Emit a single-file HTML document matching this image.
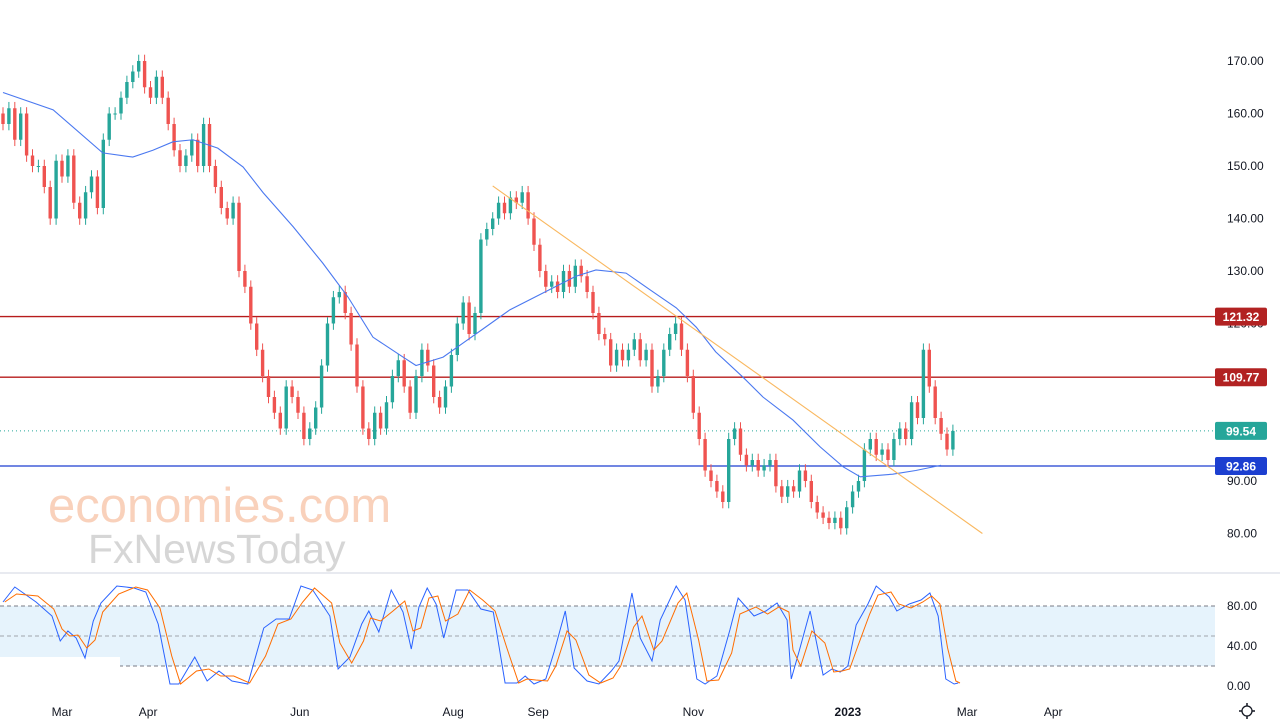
<!DOCTYPE html>
<html><head><meta charset="utf-8"><style>
html,body{margin:0;padding:0;background:#fff;}
svg{display:block;font-family:"Liberation Sans",sans-serif;}
</style></head><body>
<svg id="chart" width="1280" height="728" xmlns="http://www.w3.org/2000/svg">
<rect width="1280" height="728" fill="#fff"/>
<g>
<text x="48" y="522" font-size="49" fill="#f8c9b0" opacity="0.85">economies.com</text>
<text x="88" y="563" font-size="41" fill="#d6d6d6">FxNewsToday</text>
</g>
<g id="osc-bg"></g>
<g id="price"></g>
<g id="osc"></g>
<g id="axes"></g>
</svg>
<script>
// ---- price data ----
const closes=[158,161,155,160,152,150, 150,146,140,151,148,152,143, 140,145,148,142,155,160,
160,163,166,168,170,165,163, 167,163,158,153, 150,152,155,150,158,150, 146,142,140,143,
130,127,120,115,110,106,103, 100,108,106,103,98,100,104, 112,120,125,126,122,
116,108,100,98,103,100, 105,110,113,108,103, 110,115,112,106,104, 108,114,120,124,118,122,
136,138,140,143,141,144,143,145, 140,135,130,127,128,126, 130,127,131,129,126,122,
118,117,112,115,113,115, 117,113,115,108,110,115, 118,120,115,110, 103,98,92,90,88,86,
98,100,95,93,94,92, 93,94,89,87,89,88, 92,90,86,84,83,82, 83,81,85,88,90,
96,98,95,96,94, 98,100,98,105,102, 115,108,102,99,96,99.54];
const maT=[0,8.5,16.9,22,25.4,28.8,32.2,36.4,40.7,44.1,49.2,54.2,58.5,62.7,67.8,70,74.6,78,81.4,85.9,97.1,100.5,105.6,109.7,114.1,117.5,120.8,125.4,128.8,133.9,138.5,142.4,145.3,150.8,154.7,159];
const maVal=[164,160.7,152.5,151.7,153,154.6,155,153.4,149.8,144.9,138.4,131.5,125,117.4,113.6,112,113.6,116.3,119,122.6,129,130.2,129.6,126.4,123,119.3,114.6,109.8,106,101.6,96.5,92.7,90.8,91.3,92,93];
const trendT=[83,166];
const trendP=[146.2,80];
const priceTicks=[170,160,150,140,130,120,90,80];
const levels=[121.32,109.77,92.86];
const lastPrice=99.54;
// ---- oscillator data ----
const oscT=[0,2,5.6,8.3,9.7,11,12.4,13.9,15.3,16.6,19.3,22.2,24.2,26.3,28.3,29.8,32.5,34.6,36.6,38.8,
41.5,44.2,46.3,48.5,50.5,52.5,55.4,56.8,58.8,60.8,62,63.7,65.8,67.8,69.2,70.5,71.9,73.4,74.7,76.8,
78.8,81,83.1,85.1,87.1,88.5,90,92,93.4,95.3,96.8,99,101,103.1,104.4,106.6,108,110,111.4,114.1,
115.6,117.6,119,121,123.2,124.6,127.3,129.3,131.2,132.9,133.6,134.9,136.8,139,140.5,141.9,143.2,144.6,146.6,148,
150.2,151.5,153.6,155.6,157.1,158.5,159.8,161.2,161.9];
const oscK=[84,99,84,70,45,55,48,28,65,83,100,98,94,62,2,2,29,5,15,5,
2,58,67,67,100,96,70,17,29,62,75,54,96,74,37,79,98,82,48,96,
96,77,74,3,3,10,2,7,34,75,18,5,2,15,25,93,48,25,66,100,
86,7,2,10,56,88,70,75,83,66,7,34,75,11,17,14,20,61,82,100,
89,75,82,86,93,70,7,2,3];
const oscD=[84,92,90,77,57,50,51,38,46,74,92,99,96,78,30,2,15,17,10,10,
3,30,62,67,84,98,83,43,23,45,68,65,75,85,55,58,88,90,65,72,
96,86,75,38,3,7,6,5,20,55,46,11,3,8,20,59,70,36,45,83,
93,46,5,6,33,72,79,72,79,74,36,20,55,43,14,15,17,40,72,91,
94,82,78,84,90,82,38,5,3];
const oscTicks=[80,40,0];
const monthLabels=["Mar","Apr","Jun","Aug","Sep","Nov","2023","Mar","Apr"];
const monthT=[10,24.6,50.3,76.3,90.7,117,143.2,163.4,178];

const NS="http://www.w3.org/2000/svg";
const X=t=>3+t*5.9;
const Y=p=>61+(170-p)*5.25;
const OY=v=>686-v;
function mk(tag,attrs,parent){const e=document.createElementNS(NS,tag);for(const k in attrs)e.setAttribute(k,attrs[k]);parent.appendChild(e);return e;}
const price=document.getElementById('price'),osc=document.getElementById('osc'),oscBg=document.getElementById('osc-bg'),axes=document.getElementById('axes');

levels.forEach((lv,i)=>{
  const l=mk('line',{x1:0,x2:1215,y1:Y(lv),y2:Y(lv),stroke:i==2?'#1c3fd0':'#b71c1c','stroke-width':1.3},price);
  
  
});
const dl=mk('line',{x1:0,x2:1215,y1:Y(lastPrice),y2:Y(lastPrice),stroke:'#26a69a','stroke-dasharray':'1 3','stroke-width':1},price);



let prev=160;
closes.forEach((c,i)=>{
  const o=prev;prev=c;
  const up=c>=o,col=up?'#26a69a':'#ef5350';
  const hi=Math.max(o,c)+1.2,lo=Math.min(o,c)-1.2;
  const g=mk('g',{},price);
  
  
  mk('line',{x1:X(i),x2:X(i),y1:Y(hi),y2:Y(lo),stroke:col,'stroke-width':1},g);
  const top=Y(Math.max(o,c)),h=Math.max(1,Math.abs(Y(o)-Y(c)));
  mk('rect',{x:X(i)-1.7,y:top,width:3.4,height:h,fill:col},g);
});
const ma=mk('path',{d:maT.map((t,i)=>(i?'L':'M')+X(t)+','+Y(maVal[i])).join(''),fill:'none',stroke:'#4a78f0','stroke-width':1.1},price);


const tl=mk('line',{x1:X(trendT[0]),y1:Y(trendP[0]),x2:X(trendT[1]),y2:Y(trendP[1]),stroke:'#f9b860','stroke-width':1.1},price);



const sep=mk('line',{x1:0,x2:1280,y1:573,y2:573,stroke:'#e0e3eb','stroke-width':1.5},axes);



const band=mk('rect',{x:0,y:OY(80),width:1215,height:OY(20)-OY(80),fill:'#e6f3fc'},oscBg);


[80,50,20].forEach(v=>{
  const l=mk('line',{x1:0,x2:1215,y1:OY(v),y2:OY(v),stroke:v==50?'#a0a4ac':'#787b86','stroke-dasharray':'4 3','stroke-width':1},oscBg);
  
  
});
const wb=mk('rect',{x:0,y:657,width:120,height:40,fill:'#fff'},oscBg);


const kp=mk('path',{d:oscT.map((t,i)=>(i?'L':'M')+X(t)+','+OY(oscK[i])).join(''),fill:'none',stroke:'#2962ff','stroke-width':1},osc);


const dp=mk('path',{d:oscT.map((t,i)=>(i?'L':'M')+X(t+0.3)+','+OY(oscD[i])).join(''),fill:'none',stroke:'#ff6d00','stroke-width':1},osc);



priceTicks.forEach(p=>{
  const t=mk('text',{x:1227,y:Y(p)+4,'font-size':12,fill:'#131722'},axes);t.textContent=p.toFixed(2);
  
  
});
oscTicks.forEach(v=>{
  const t=mk('text',{x:1227,y:OY(v)+4,'font-size':12,fill:'#131722'},axes);t.textContent=v.toFixed(2);
  
  
});
const tagCols=['#b22222','#b22222','#1c3fd0'];
levels.concat([lastPrice]).forEach((lv,i)=>{
  const col=i==3?'#26a69a':tagCols[i];
  const g=mk('g',{},axes);
  
  
  mk('rect',{x:1215,y:Y(lv)-9,width:52,height:18,fill:col,rx:2},g);
  const t=mk('text',{x:1241,y:Y(lv)+4.5,'font-size':12,fill:'#fff','text-anchor':'middle','font-weight':'bold'},g);
  t.textContent=lv.toFixed(2);
});
monthLabels.forEach((m,i)=>{
  const t=mk('text',{x:X(monthT[i]),y:716,'font-size':12,fill:'#131722','text-anchor':'middle','font-weight':m=='2023'?'bold':'normal'},axes);
  t.textContent=m;
  
  
});
const gear=mk('g',{},axes);


mk('circle',{cx:1247,cy:711,r:5,fill:'none',stroke:'#131722','stroke-width':1.3},gear);
[0,90,180,270].forEach(a=>mk('line',{x1:1247,y1:703,x2:1247,y2:705.5,stroke:'#131722','stroke-width':1.5,transform:'rotate('+a+' 1247 711)'},gear));
</script>
</body></html>
